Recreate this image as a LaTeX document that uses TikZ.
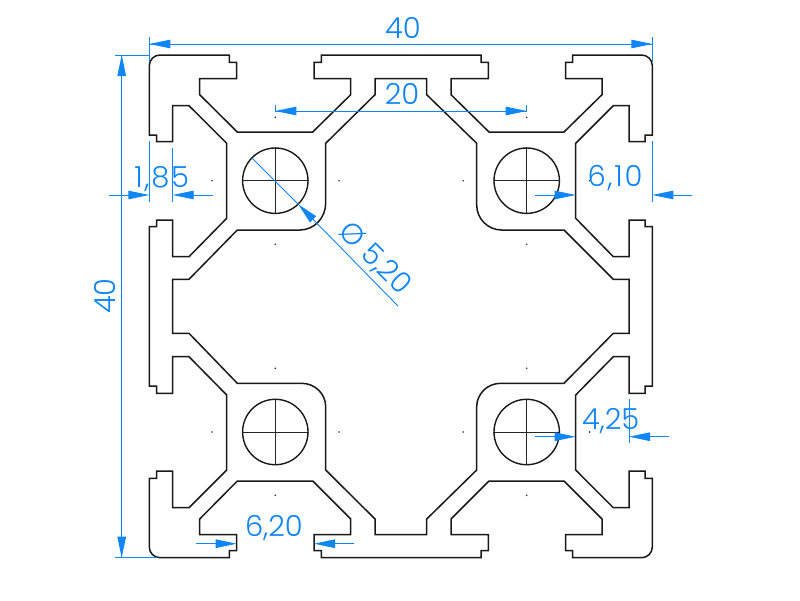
\documentclass[tikz,border=0pt]{standalone}
\usepackage{fontspec}
\usetikzlibrary{arrows.meta}
\newfontfamily\dimfont{Poppins Light}
\newfontfamily\dimfontwide[LetterSpace=6]{Poppins Light}
\definecolor{dimblue}{HTML}{0F86F5}
\begin{document}
\begin{tikzpicture}[x=1pt,y=-1pt]
	\tikzstyle{profile}=[draw=black!90,line width=1.5pt]
	\tikzstyle{hole}=[circle,draw=black!90,line width=1.4pt,inner sep=0pt,minimum size=65.4pt]
	\tikzstyle{holecross}=[draw=black!85,line width=.9pt]
	\tikzstyle{holedot}=[circle,fill=black!80,inner sep=0pt,minimum size=1.8pt]
	\tikzstyle{dimline}=[draw=dimblue,line width=.9pt]
	\tikzstyle{dimarrow}=[dimline,-{Triangle[length=21pt,width=8.5pt,fill=dimblue]}]
	\tikzstyle{dimtext}=[text=dimblue,inner sep=0pt,font=\fontsize{29}{29}\dimfont]
	\tikzstyle{dimtextwide}=[text=dimblue,inner sep=0pt,font=\fontsize{29}{29}\dimfontwide]
	\useasboundingbox (0,0) rectangle (800,600);
	% outer contour
	\begin{scope}
		\path[profile] (149.3,65.7) .. controls (149.3,59.8) and (154.1,55) .. (160,55)
			-- (229.3,55) -- (229.3,62.3) -- (236.7,62.3) -- (236.7,78.7) -- (199.7,78.7) -- (199.7,94.7)
			-- (237.3,132) -- (312.7,132) -- (350.7,94.7) -- (350.7,78.7) -- (314,78.7) -- (314,62.3) -- (321.3,62.3) -- (321.3,55)
			-- (481,55) -- (481,62.3) -- (488.3,62.3) -- (488.3,78.7) -- (451,78.7) -- (451,94.7)
			-- (489,132) -- (564,132) -- (602,94.7) -- (602,78.7) -- (565.7,78.7) -- (565.7,62.3) -- (572.7,62.3) -- (572.7,55)
			-- (641.6,55) .. controls (647.5,55) and (652.3,59.8) .. (652.3,65.7)
			-- (652.3,135) -- (645,135) -- (645,141.7) -- (629,141.7) -- (629,105.7) -- (613.3,105.7)
			-- (575.7,143.3) -- (575.7,218.3) -- (613.3,256.7) -- (629,256.7) -- (629,220) -- (645,220) -- (645,226.7) -- (652.3,226.7)
			-- (652.3,386) -- (645,386) -- (645,393.3) -- (629,393.3) -- (629,356.7) -- (613.3,356.7)
			-- (575.7,395) -- (575.7,470) -- (613.3,507.7) -- (629,507.7) -- (629,471) -- (645,471) -- (645,478.3) -- (652.3,478.3)
			-- (652.3,547) .. controls (652.3,552.9) and (647.5,557.7) .. (641.6,557.7)
			-- (572.7,557.7) -- (572.7,550.7) -- (565.7,550.7) -- (565.7,534.7) -- (602,534.7) -- (602,519)
			-- (564,481) -- (489,481) -- (451,519) -- (451,534.7) -- (488.3,534.7) -- (488.3,550.7) -- (481,550.7) -- (481,557.7)
			-- (321.3,557.7) -- (321.3,550.7) -- (314,550.7) -- (314,534.7) -- (350.7,534.7) -- (350.7,519)
			-- (312.7,481) -- (237.3,481) -- (199.7,519) -- (199.7,534.7) -- (236.7,534.7) -- (236.7,550.7) -- (229.3,550.7) -- (229.3,557.7)
			-- (160,557.7) .. controls (154.1,557.7) and (149.3,552.9) .. (149.3,547)
			-- (149.3,478.3) -- (156.7,478.3) -- (156.7,471) -- (172.7,471) -- (172.7,507.7) -- (189,507.7)
			-- (226.7,470) -- (226.7,395) -- (189,356.7) -- (172.7,356.7) -- (172.7,393.3) -- (156.7,393.3) -- (156.7,386) -- (149.3,386)
			-- (149.3,226.7) -- (156.7,226.7) -- (156.7,220) -- (172.7,220) -- (172.7,256.7) -- (189,256.7)
			-- (226.7,218.3) -- (226.7,143.3) -- (189,105.7) -- (172.7,105.7) -- (172.7,141.7) -- (156.7,141.7) -- (156.7,135) -- (149.3,135) -- cycle;
	\end{scope}
	% centre hollow
	\begin{scope}
		\path[profile] (375,78.7) -- (375,94.7) -- (325.7,143.3) -- (325.7,203)
			.. controls (325.7,217.9) and (314.1,230) .. (300,230)
			-- (237.3,230) -- (189,279.3) -- (172.7,279.3) -- (172.7,333.3) -- (189,333.3) -- (237.3,383.3) -- (301.7,383.3)
			.. controls (315,383.3) and (325.7,393.9) .. (325.7,406.7)
			-- (325.7,470) -- (375,519) -- (375,534.7) -- (426.7,534.7) -- (426.7,519) -- (476.7,470) -- (476.7,406.7)
			.. controls (476.7,393.9) and (487.4,383.3) .. (500.7,383.3)
			-- (564,383.3) -- (613.3,333.3) -- (629,333.3) -- (629,279.3) -- (613.3,279.3) -- (564,230) -- (501.7,230)
			.. controls (487.9,230) and (476.7,218.8) .. (476.7,205)
			-- (476.7,143.3) -- (426.7,94.7) -- (426.7,78.7) -- cycle;
	\end{scope}
	% holes
	\node [hole] (h1) at (275.3,180.7) {};
	\node [hole] (h2) at (526.7,180.7) {};
	\node [hole] (h3) at (275.3,432) {};
	\node [hole] (h4) at (526.7,432) {};
	\path[holecross] (h1.west) -- (h1.east);
	\path[holecross] (h1.north) -- (h1.south);
	\path[holecross] (h2.west) -- (h2.east);
	\path[holecross] (h2.north) -- (h2.south);
	\path[holecross] (h3.west) -- (h3.east);
	\path[holecross] (h3.north) -- (h3.south);
	\path[holecross] (h4.west) -- (h4.east);
	\path[holecross] (h4.north) -- (h4.south);
	% small dots round the holes
	\node [holedot] (m1) at (212,180.7) {};
	\node [holedot] (m2) at (339,180.7) {};
	\node [holedot] (m3) at (275.3,117.3) {};
	\node [holedot] (m4) at (275.3,244.3) {};
	\node [holedot] (m5) at (463.2,180.7) {};
	\node [holedot] (m6) at (589.6,180.7) {};
	\node [holedot] (m7) at (526.7,117.3) {};
	\node [holedot] (m8) at (526.7,244.3) {};
	\node [holedot] (m9) at (212,432) {};
	\node [holedot] (m10) at (339,432) {};
	\node [holedot] (m11) at (275.3,368.3) {};
	\node [holedot] (m12) at (275.3,495.3) {};
	\node [holedot] (m13) at (463.2,432) {};
	\node [holedot] (m14) at (589.6,432) {};
	\node [holedot] (m15) at (526.7,368.3) {};
	\node [holedot] (m16) at (526.7,495.3) {};
	% top 40
	\coordinate (w1) at (149.3,44);
	\coordinate (w2) at (652.3,44);
	\coordinate (w1a) at (149.3,37);
	\coordinate (w1b) at (149.3,62);
	\coordinate (w2a) at (652.3,37);
	\coordinate (w2b) at (652.3,62);
	\node [dimtext] (wtext) at (403,28) {40};
	\path[dimline] (w1a) -- (w1b);
	\path[dimline] (w2a) -- (w2b);
	\path[dimarrow] (w2) -- (w1);
	\path[dimarrow] (w1) -- (w2);
	% left 40
	\coordinate (v1) at (121.7,55);
	\coordinate (v2) at (121.7,557.7);
	\coordinate (v1a) at (115,55);
	\coordinate (v1b) at (150,55);
	\coordinate (v2a) at (115,557.7);
	\coordinate (v2b) at (157,557.7);
	\node [dimtext,rotate=90] (vtext) at (105,296) {40};
	\path[dimline] (v1a) -- (v1b);
	\path[dimline] (v2a) -- (v2b);
	\path[dimarrow] (v2) -- (v1);
	\path[dimarrow] (v1) -- (v2);
	% 20
	\coordinate (s1) at (275.3,111);
	\coordinate (s2) at (526.7,111);
	\coordinate (s1a) at (275.3,105);
	\coordinate (s2a) at (526.7,105);
	\node [dimtext] (stext) at (402,94) {20};
	\path[dimline] (s1a) -- (s1);
	\path[dimline] (s2a) -- (s2);
	\path[dimarrow] (s2) -- (s1);
	\path[dimarrow] (s1) -- (s2);
	% 1,85
	\coordinate (a1) at (109.3,195);
	\coordinate (a2) at (149.3,195);
	\coordinate (a3) at (213,195);
	\coordinate (a4) at (172.7,195);
	\coordinate (a2a) at (149.3,141);
	\coordinate (a2b) at (149.3,202);
	\coordinate (a4a) at (172.7,148);
	\coordinate (a4b) at (172.7,202);
	\node [dimtextwide] (atext) at (161.7,179) {1,85};
	\path[dimline] (a2a) -- (a2b);
	\path[dimline] (a4a) -- (a4b);
	\path[dimarrow] (a1) -- (a2);
	\path[dimarrow] (a3) -- (a4);
	% 6,10
	\coordinate (b1) at (535,195);
	\coordinate (b2) at (575.7,195);
	\coordinate (b3) at (692.3,195);
	\coordinate (b4) at (652.3,195);
	\coordinate (b4a) at (652.3,141);
	\coordinate (b4b) at (652.3,202);
	\node [dimtextwide] (btext) at (615,178) {6,10};
	\path[dimline] (b4a) -- (b4b);
	\path[dimarrow] (b1) -- (b2);
	\path[dimarrow] (b3) -- (b4);
	% 4,25
	\coordinate (c1) at (535,436.7);
	\coordinate (c2) at (575.7,436.7);
	\coordinate (c3) at (669,436.7);
	\coordinate (c4) at (629,436.7);
	\coordinate (c4a) at (629,399);
	\coordinate (c4b) at (629,443);
	\node [dimtext] (ctext) at (610.7,420.7) {4,25};
	\path[dimline] (c4a) -- (c4b);
	\path[dimarrow] (c1) -- (c2);
	\path[dimarrow] (c3) -- (c4);
	% 6,20
	\coordinate (e1) at (196,543.7);
	\coordinate (e2) at (236.7,543.7);
	\coordinate (e3) at (354,543.7);
	\coordinate (e4) at (314,543.7);
	\node [dimtext] (etext) at (274,527.7) {6,20};
	\path[dimarrow] (e1) -- (e2);
	\path[dimarrow] (e3) -- (e4);
	% diameter 5,20
	\coordinate (f1) at (252,158);
	\coordinate (f2) at (298.3,204.3);
	\coordinate (f3) at (398,306);
	\node [dimtext,rotate=-45] (ftext) at (375,259) {Ø 5,20};
	\path[dimline] (f1) -- (f2);
	\path[dimarrow] (f3) -- (f2);
\end{tikzpicture}
\end{document}
